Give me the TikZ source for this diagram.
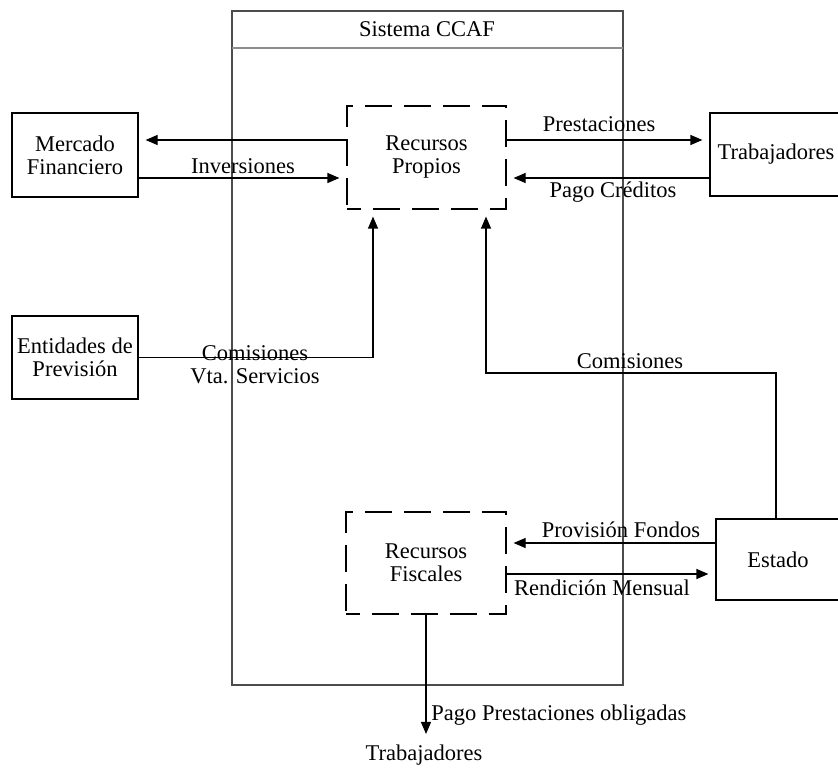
\documentclass[tikz,border=0pt]{standalone}
\usepackage{fontspec}
\setmainfont{Liberation Serif}
\usetikzlibrary{arrows.meta}
\tikzset{every node/.append style={align=center}}
\tikzset{
  entity/.style={draw, line width=0.6pt, inner sep=0pt},
  resource/.style={draw, line width=0.6pt, inner sep=0pt,
    dash pattern=on 13.5pt off 6pt, dash phase=6.75pt},
  flow/.style={-{Triangle[length=6pt,width=5pt]}, line width=0.6pt,
    shorten >=3.5pt},
  link/.style={line width=0.6pt},
  lbl/.style={anchor=base, inner sep=0pt}
}

\begin{document}
\begin{tikzpicture}[x=0.5pt, y=-0.5pt,
    font=\fontsize{11.25}{11.5}\selectfont]
  \useasboundingbox (0,0) rectangle (838,774);

  % === SISTEMA CCAF ===
  \draw[link, black!70] (232,11) rectangle (623,685);
  \draw[link, black!45] (232,48) -- (623,48);
  \node[lbl] (ccaf) at (427,37) {Sistema CCAF};

  % Recursos
  \node[resource, minimum width=79.5pt, minimum height=51.5pt]
    (propios) at (426.5,157.5) {Recursos\\Propios};
  \node[resource, minimum width=80pt, minimum height=51pt]
    (fiscales) at (426,563) {Recursos\\Fiscales};

  % Entidades externas
  \node[entity, minimum width=63pt, minimum height=42pt]
    (mercado) at (75,155) {Mercado\\Financiero};
  \node[entity, minimum width=63pt, minimum height=41.5pt]
    (entidades) at (75,357.5) {Entidades de\\Previsión};
  \node[entity, minimum width=66pt, minimum height=41.5pt]
    (trabajadores) at (776,154.5) {Trabajadores};
  \node[entity, minimum width=62pt, minimum height=40.5pt]
    (estado) at (778,559.5) {Estado};
  \node[lbl] (trabfin) at (424,760) {Trabajadores};

  % Mercado Financiero
  \draw[flow] (propios.west |- 0,140) -- (mercado.east |- 0,140);
  \draw[flow] (mercado.east |- 0,178) -- (propios.west |- 0,178);
  \node[lbl] (inversiones) at (243,174) {Inversiones};

  % Trabajadores
  \draw[flow] (propios.east |- 0,140) -- (trabajadores.west |- 0,140);
  \draw[flow] (trabajadores.west |- 0,178) -- (propios.east |- 0,178);
  \node[lbl] (prestaciones) at (599,132) {Prestaciones};
  \node[lbl] (pagocred) at (613,198) {Pago Créditos};

  % Entidades de Prevision
  \draw[flow] (entidades.east) -| (propios.south -| 373,0);
  \node[lbl] (comis1) at (255,360) {Comisiones};
  \node[lbl] (vtaserv) at (255,383) {Vta. Servicios};

  % Estado
  \draw[flow] (estado.north -| 776,0) |- (486,373)
    -- (propios.south -| 486,0);
  \node[lbl] (comis2) at (630,368) {Comisiones};
  \draw[flow] (estado.west |- 0,543) -- (fiscales.east |- 0,543);
  \draw[flow] (fiscales.east |- 0,574) -- (estado.west |- 0,574);
  \node[lbl] (provision) at (621,537) {Provisión Fondos};
  \node[lbl] (rendicion) at (602,595) {Rendición Mensual};

  % Pago final
  \draw[flow, shorten >=5pt] (fiscales.south) -- (fiscales.south |- trabfin.north);
  \node[lbl, anchor=base west] (pagoprest) at (431,720)
    {Pago Prestaciones obligadas};

\end{tikzpicture}
\end{document}
